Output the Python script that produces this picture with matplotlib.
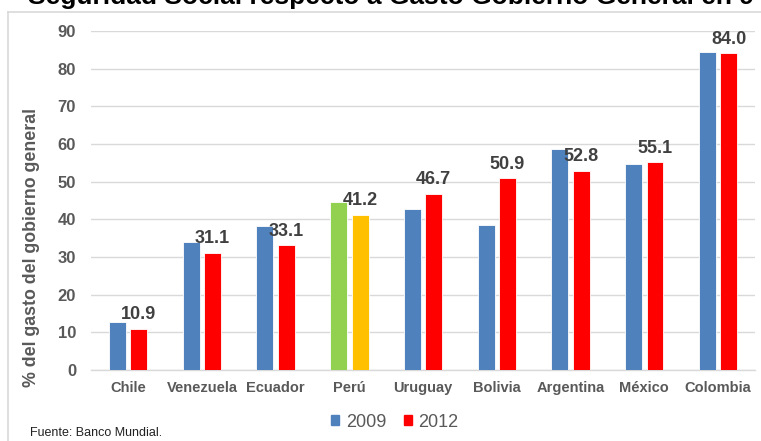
import matplotlib.pyplot as plt
from matplotlib.lines import Line2D
from matplotlib.patches import Patch
import numpy as np

plt.rcParams['font.family'] = ['Liberation Sans', 'DejaVu Sans']

# ====== DATA ======
paises = ['Chile', 'Venezuela', 'Ecuador', 'Perú', 'Uruguay',
          'Bolivia', 'Argentina', 'México', 'Colombia']
v2009 = [12.7, 34.0, 38.3, 44.5, 42.6, 38.5, 58.6, 54.6, 84.5]
v2012 = [10.9, 31.1, 33.1, 41.2, 46.7, 50.9, 52.8, 55.1, 84.0]
yticks = list(range(0, 100, 10))
# ==================

AZUL, ROJO = '#4F81BD', '#FF0000'
VERDE, AMARILLO = '#92D050', '#FFC000'
GRIS = '#595959'

c2009 = [VERDE if p == 'Perú' else AZUL for p in paises]
c2012 = [AMARILLO if p == 'Perú' else ROJO for p in paises]

fig = plt.figure(figsize=(7.61, 4.41), dpi=100)
ax = fig.add_axes([0.12, 0.161, 0.872, 0.769])

x = np.arange(len(paises))
w, off = 0.23, 0.145
ax.bar(x - off, v2009, width=w, color=c2009, edgecolor='white', linewidth=0.6, zorder=3)
ax.bar(x + off, v2012, width=w, color=c2012, edgecolor='white', linewidth=0.6, zorder=3)

# etiquetas de 2012
for xi, v in zip(x, v2012):
    ax.annotate(f'{v:.1f}', (xi + off, v), xytext=(0, 4), textcoords='offset points',
                ha='center', va='bottom', fontsize=13, fontweight='bold',
                color='#404040', zorder=4)

ax.set_xlim(-0.5, len(paises) - 0.5)
ax.set_ylim(0, 90)
ax.set_yticks(yticks)
ax.set_xticks(x)
ax.set_xticklabels(paises)
ax.tick_params(axis='y', length=0, pad=11, labelsize=12, labelcolor=GRIS)
ax.tick_params(axis='x', length=0, pad=8, labelsize=10.5, labelcolor=GRIS)
for lab in ax.get_xticklabels() + ax.get_yticklabels():
    lab.set_fontweight('bold')

ax.grid(axis='y', color='#D9D9D9', linewidth=1, zorder=0)
for s in ['top', 'right', 'left']:
    ax.spines[s].set_visible(False)
ax.spines['bottom'].set_color('#D9D9D9')
ax.spines['bottom'].set_linewidth(1)

ax.set_ylabel('% del gasto del gobierno general', fontsize=12.8, fontweight='bold',
              color=GRIS)
ax.yaxis.set_label_coords(-0.077, 0.36)

handles = [Patch(color=AZUL, label='2009'), Patch(color=ROJO, label='2012')]
fig.legend(handles=handles, loc='center', bbox_to_anchor=(0.519, 0.043), ncol=2,
           frameon=False, fontsize=13, handlelength=0.45, handleheight=0.45,
           handletextpad=0.35, columnspacing=1.0, labelcolor=GRIS)

fig.text(30 / 761, 1 - 433 / 441, 'Fuente: Banco Mundial.', fontsize=9,
         color='#222222', va='center', ha='left')

# titulo cortado arriba y borde del grafico
fig.text(28 / 761, 1 - 4 / 441, 'Seguridad Social respecto a Gasto Gobierno General en 9 países',
         fontsize=19, fontweight='bold', color='black', ha='left', va='baseline')
fig.add_artist(Line2D([8 / 761, 8 / 761], [0, 1 - 12 / 441], transform=fig.transFigure,
                      color='#D9D9D9', linewidth=1.2))
fig.add_artist(Line2D([8 / 761, 1], [1 - 12 / 441, 1 - 12 / 441], transform=fig.transFigure,
                      color='#D9D9D9', linewidth=1.2))

fig.savefig('out.png', dpi=100)
